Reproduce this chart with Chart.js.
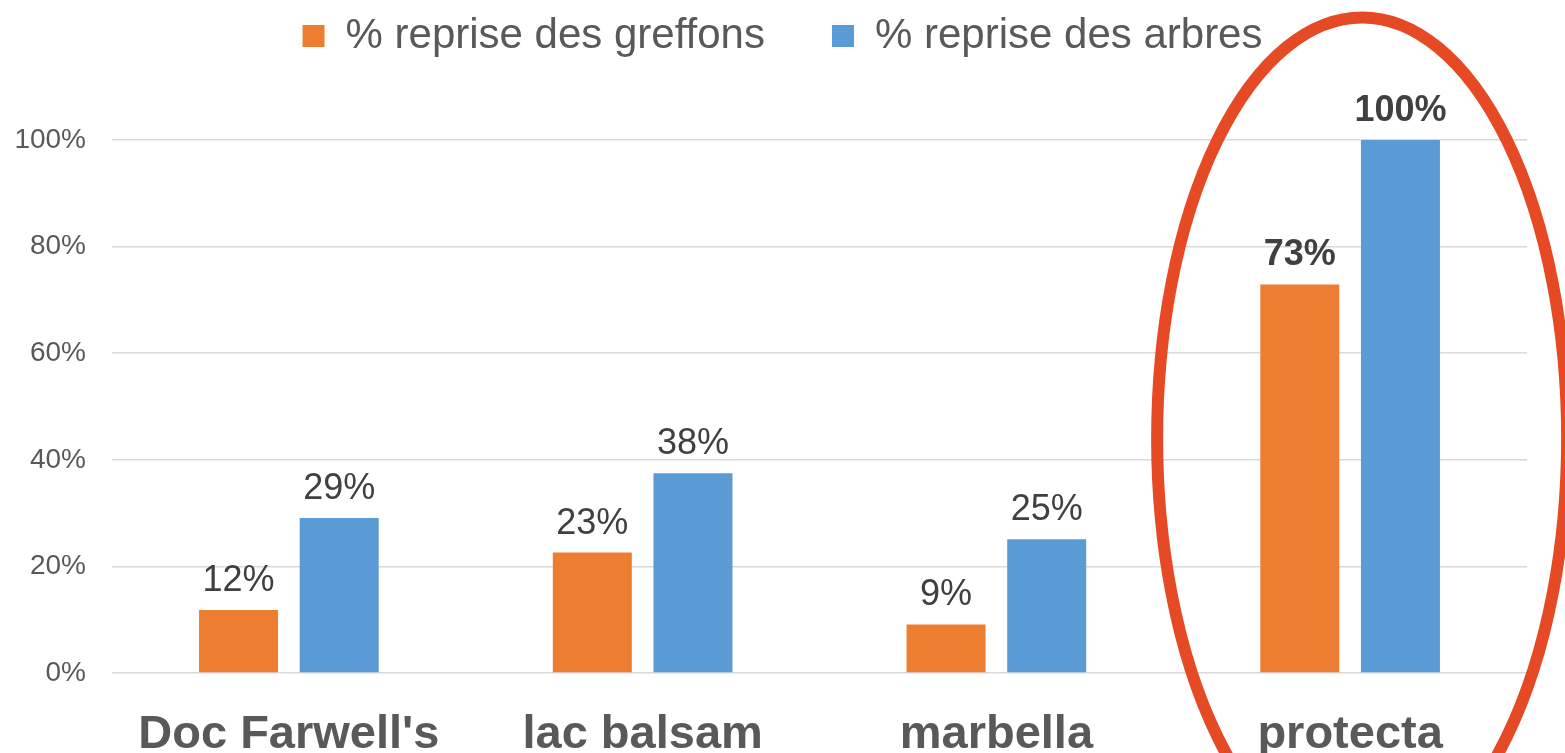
<!DOCTYPE html>
<html>
<head>
<meta charset="utf-8">
<script src="https://cdn.jsdelivr.net/npm/chart.js@4"></script>
<style>
  body { margin: 0; background: #fff; }
</style>
</head>
<body>
<canvas id="chart" width="1565" height="753"></canvas>
<script>
// Data
const categories = ["Doc Farwell's", 'lac balsam', 'marbella', 'protecta'];
const greffons = [11.8, 22.6, 9.1, 72.9];
const arbres = [29.1, 37.5, 25.1, 100];
const yTicks = [0, 20, 40, 60, 80, 100];
const highlight = 'protecta';

const FONT = "'Liberation Sans', Arial, sans-serif";
const hi = categories.indexOf(highlight);

// value labels above bars
const valueLabels = {
    id: 'valueLabels',
    afterDatasetsDraw(chart) {
        const ctx = chart.ctx;
        ctx.save();
        ctx.fillStyle = '#404040';
        ctx.textAlign = 'center';
        ctx.textBaseline = 'alphabetic';
        chart.data.datasets.forEach((ds, i) => {
            chart.getDatasetMeta(i).data.forEach((bar, j) => {
                ctx.font = (j === hi ? 'bold ' : '') + '36px ' + FONT;
                ctx.fillText(Math.round(ds.data[j]) + '%', bar.x, bar.y - 19);
            });
        });
        ctx.restore();
    }
};

// red ring around the highlighted category
const ring = {
    id: 'ring',
    afterDraw(chart) {
        const { ctx, scales } = chart;
        const cx = scales.x.getPixelForValue(hi) + 12;
        const cy = scales.y.getPixelForValue(44);
        const ry = scales.y.getPixelForValue(0) - scales.y.getPixelForValue(79);
        ctx.save();
        ctx.strokeStyle = '#E64A25';
        ctx.lineWidth = 12;
        ctx.beginPath();
        ctx.ellipse(cx, cy, 205, ry, 0, 0, Math.PI * 2);
        ctx.stroke();
        ctx.restore();
    }
};

new Chart(document.getElementById('chart').getContext('2d'), {
    type: 'bar',
    data: {
        labels: categories,
        datasets: [{
            label: '% reprise des greffons',
            data: greffons,
            backgroundColor: '#ED7D31'
        }, {
            label: '% reprise des arbres',
            data: arbres,
            backgroundColor: '#5B9BD5'
        }]
    },
    options: {
        responsive: false,
        animation: false,
        categoryPercentage: 0.569,
        barPercentage: 0.785,
        layout: { padding: { top: -52, left: 0, right: 0, bottom: 0 } },
        plugins: {
            tooltip: { enabled: false },
            legend: {
                position: 'top',
                labels: {
                    boxWidth: 22,
                    boxHeight: 22,
                    padding: 67,
                    color: '#595959',
                    font: { family: FONT, size: 42 }
                }
            },
            // empty spacer between legend and plot
            title: {
                display: true,
                text: ' ',
                weight: 500,
                font: { size: 10, lineHeight: 1 },
                padding: { top: 0, bottom: 63 }
            }
        },
        scales: {
            x: {
                grid: { display: false },
                border: { display: false },
                ticks: {
                    color: '#595959',
                    padding: 26,
                    font: { family: FONT, size: 47, weight: 'bold', lineHeight: 1.2 }
                },
                afterFit(s) { s.height = 80; }
            },
            y: {
                min: 0,
                max: 100,
                border: { display: false },
                grid: { color: '#D9D9D9', lineWidth: 1.5, drawTicks: false },
                afterBuildTicks(s) { s.ticks = yTicks.map(v => ({ value: v })); },
                afterFit(s) { s.width = 112; },
                ticks: {
                    color: '#595959',
                    padding: 26,
                    font: { family: FONT, size: 28 },
                    callback: v => v + '%'
                }
            },
            // empty right margin
            yRight: {
                position: 'right',
                min: 0,
                max: 100,
                grid: { display: false },
                border: { display: false },
                ticks: { display: false },
                afterFit(s) { s.width = 38; }
            }
        }
    },
    plugins: [valueLabels, ring]
});
</script>
</body>
</html>
